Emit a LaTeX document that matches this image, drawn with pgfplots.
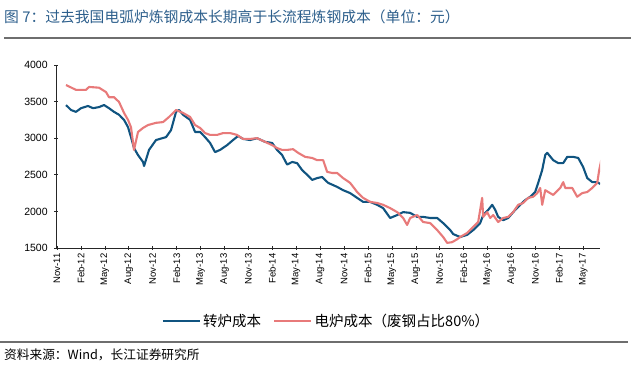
\documentclass[border=0pt]{standalone}
\usepackage{fontspec}
\setmainfont{Liberation Sans}
\newfontfamily\cjk{Noto Sans CJK SC}
\usepackage{pgfplots}
\pgfplotsset{compat=1.18}
\definecolor{bofblue}{RGB}{16,84,128}
\definecolor{eafpink}{RGB}{232,122,122}
\definecolor{titleblue}{RGB}{45,95,140}
\definecolor{rulegrey}{RGB}{110,110,110}
\begin{document}
\begin{tikzpicture}[x=1pt,y=1pt]
\path[use as bounding box] (0,0) rectangle (640,374);
\node[anchor=west, font=\cjk\fontsize{14.8}{16}\selectfont, text=titleblue, inner sep=0] at (4,357) {图 7：过去我国电弧炉炼钢成本长期高于长流程炼钢成本（单位：元）};
\draw[rulegrey, line width=1.8] (4,336) -- (631,336);
\draw[rulegrey, line width=1.5] (0,32) -- (628,32);
\node[anchor=west, font=\cjk\fontsize{12.7}{14}\selectfont, inner sep=0] at (4,19) {资料来源：Wind，长江证券研究所};
\begin{axis}[
  at={(56.2pt,126pt)}, anchor=south west, scale only axis,
  width=543.8pt, height=183pt,
  xmin=-0.1, xmax=68.1, ymin=1500, ymax=4000,
  axis x line=bottom, axis y line=left,
  axis line style={-, black!85, line width=0.8pt},
  xtick={0,3,...,66},
  xticklabels={Nov-11,Feb-12,May-12,Aug-12,Nov-12,Feb-13,May-13,Aug-13,Nov-13,Feb-14,May-14,Aug-14,Nov-14,Feb-15,May-15,Aug-15,Nov-15,Feb-16,May-16,Aug-16,Nov-16,Feb-17,May-17},
  x tick label style={rotate=90, anchor=east, font=\fontsize{9.5}{10}\selectfont},
  ytick={1500,2000,...,4000},
  y tick label style={font=\fontsize{10.5}{12}\selectfont, xshift=-3pt},
  /pgf/number format/assume math mode=true,
  /pgf/number format/set thousands separator={},
  tick style={black!85, line width=0.6pt}, major tick length=4pt, tick align=center,
  legend style={at={(0.497,-0.399)}, anchor=center, draw=none, fill=none,
    legend columns=2, font=\cjk\fontsize{14.5}{16}\selectfont,
    /tikz/every even column/.append style={column sep=10pt}},
  legend image code/.code={\draw[#1, line width=2.5pt] (0pt,0pt) -- (37pt,0pt);},
]
\addplot[bofblue, line width=2.1pt, line join=round] coordinates {
(1.13,3453)(1.76,3385)(2.38,3360)(3.01,3410)(3.89,3440)(4.52,3410)(5.27,3425)(5.90,3453)(6.52,3410)(7.15,3360)(7.78,3320)(8.41,3250)(8.91,3150)(9.28,3015)(9.66,2865)(10.16,2770)(10.79,2675)(10.92,2620)(11.54,2840)(12.42,2975)(13.68,3015)(14.30,3110)(14.93,3360)(15.31,3385)(15.81,3320)(16.69,3250)(17.32,3085)(17.94,3085)(18.57,3015)(19.20,2935)(19.82,2810)(20.45,2840)(21.33,2905)(22.08,2975)(22.71,3030)(23.34,2990)(24.22,2975)(25.09,3000)(26.10,2950)(26.98,2935)(27.60,2840)(28.23,2770)(28.86,2640)(29.49,2675)(30.11,2660)(30.74,2565)(31.37,2500)(32.00,2430)(32.62,2455)(33.25,2470)(34.00,2390)(35.13,2335)(35.88,2290)(36.76,2250)(37.64,2185)(38.39,2130)(39.27,2130)(40.15,2090)(40.90,2045)(41.78,1910)(42.66,1950)(43.41,1990)(44.29,1980)(45.17,1925)(45.92,1925)(46.80,1910)(47.68,1910)(48.43,1840)(49.31,1745)(49.69,1690)(50.56,1650)(51.44,1680)(52.20,1745)(53.07,1840)(53.45,1950)(54.08,2020)(54.58,2090)(54.96,2020)(55.33,1925)(55.96,1880)(56.59,1910)(57.21,1990)(58.09,2090)(58.72,2155)(59.35,2200)(59.97,2265)(60.35,2390)(60.85,2565)(61.23,2770)(61.48,2800)(62.23,2700)(62.86,2660)(63.49,2660)(63.99,2745)(64.74,2745)(65.37,2730)(65.99,2605)(66.50,2455)(67.13,2400)(67.75,2400)(68.13,2375)
};
\addlegendentry{转炉成本}
\addplot[eafpink, line width=2.1pt, line join=round] coordinates {
(1.13,3727)(1.63,3700)(2.38,3660)(3.64,3660)(4.02,3700)(5.27,3690)(6.15,3630)(6.52,3560)(7.15,3560)(7.78,3495)(8.41,3345)(8.91,3250)(9.28,3150)(9.66,2840)(10.16,3085)(10.79,3140)(11.42,3180)(12.42,3210)(13.30,3220)(14.05,3290)(14.93,3385)(15.81,3345)(16.69,3290)(17.32,3180)(17.94,3140)(18.57,3070)(19.20,3045)(20.08,3045)(20.83,3070)(21.71,3070)(22.58,3045)(23.34,2990)(24.22,2990)(25.09,3000)(26.10,2950)(26.98,2905)(27.60,2865)(28.23,2840)(28.86,2840)(29.61,2850)(30.24,2800)(31.12,2745)(32.00,2730)(32.62,2700)(33.38,2700)(33.88,2540)(34.50,2525)(35.13,2525)(35.88,2455)(36.76,2390)(37.64,2265)(38.39,2185)(39.27,2130)(40.15,2115)(40.90,2090)(41.78,2045)(42.66,1990)(43.41,1910)(43.91,1815)(44.29,1910)(45.17,1950)(45.92,1855)(46.80,1840)(47.68,1745)(48.43,1650)(48.93,1570)(49.56,1580)(50.19,1620)(50.56,1650)(51.44,1705)(52.20,1790)(52.82,1855)(53.32,2185)(53.45,1925)(53.95,1990)(54.33,1910)(54.71,1950)(55.33,1855)(55.96,1910)(56.59,1925)(57.21,1990)(57.84,2090)(58.47,2115)(59.10,2185)(59.72,2200)(60.23,2250)(60.60,2320)(60.85,2090)(61.23,2290)(61.61,2265)(62.23,2225)(63.11,2320)(63.49,2400)(63.74,2320)(64.62,2320)(65.24,2200)(65.87,2250)(66.50,2265)(67.13,2320)(67.75,2390)(68.00,2565)(68.26,2700)
};
\addlegendentry{电炉成本（废钢占比80\%）}
\end{axis}
\end{tikzpicture}
\end{document}
